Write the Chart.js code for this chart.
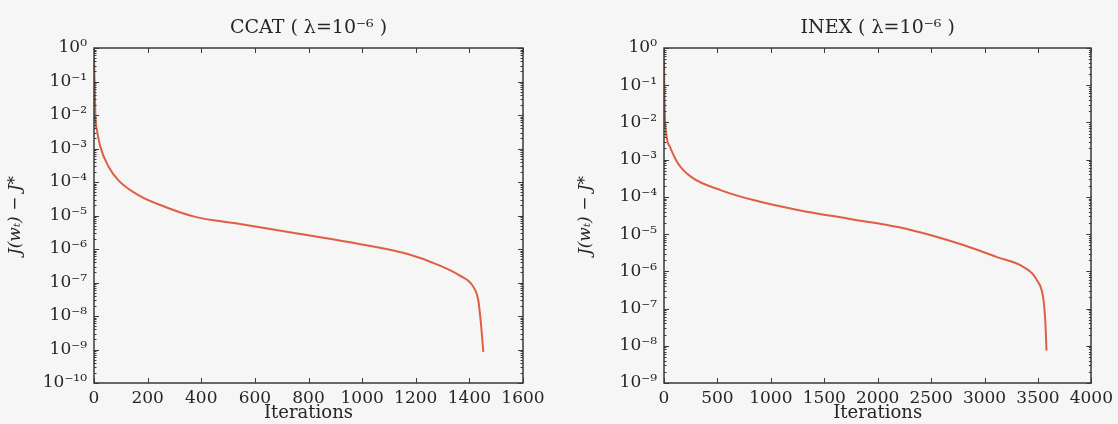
<!DOCTYPE html>
<html>
<head>
<meta charset="utf-8">
<script src="https://cdn.jsdelivr.net/npm/chart.js@4"></script>
<style>
  body { margin: 0; background: #f6f6f6; }
  .box { position: absolute; top: 0; width: 559px; height: 424px; }
</style>
</head>
<body>
<div class="box" style="left:0"><canvas id="ccat-chart"></canvas></div>
<div class="box" style="left:559px"><canvas id="inex-chart"></canvas></div>
<script>
// CCAT run (iterations vs objective gap)
const ccat_iters = [0, 3, 5, 12, 24, 55, 92, 167, 266, 378, 545, 794, 980, 1167, 1290, 1365, 1415, 1433, 1442, 1452]
const ccat_gap = [0.5, 0.05, 0.01, 3.2e-3, 1.1e-3, 2.8e-4, 1.1e-4, 4e-5, 1.8e-5, 9.1e-6, 5.6e-6, 2.6e-6, 1.45e-6, 7.2e-7, 3.2e-7, 1.6e-7, 7.4e-8, 3e-8, 7.4e-9, 8.5e-10]

// INEX run
const inex_iters = [0, 4, 9, 25, 56, 133, 257, 535, 845, 1262, 1726, 2190, 2499, 2809, 3118, 3366, 3490, 3552, 3570, 3580]
const inex_gap = [0.5, 0.05, 0.014, 4e-3, 2.2e-3, 7.8e-4, 3.4e-4, 1.5e-4, 8.1e-5, 4.4e-5, 2.6e-5, 1.55e-5, 9.3e-6, 5e-6, 2.4e-6, 1.3e-6, 5.8e-7, 1.7e-7, 3.9e-8, 7.4e-9]

// axis ticks
const ccat_x_ticks = [0, 200, 400, 600, 800, 1000, 1200, 1400, 1600]
const inex_x_ticks = [0, 500, 1000, 1500, 2000, 2500, 3000, 3500, 4000]
const ccat_y_exps = [0, -1, -2, -3, -4, -5, -6, -7, -8, -9, -10]
const inex_y_exps = [0, -1, -2, -3, -4, -5, -6, -7, -8, -9]

const ccat_title = "CCAT ( λ=10⁻⁶ )"
const inex_title = "INEX ( λ=10⁻⁶ )"
const y_label = "J(wₜ) − J*"
const x_label = "Iterations"

const serif = "'DejaVu Serif', 'Liberation Serif', serif"
const ink = "#262626"
const sup_map = {"-": "⁻", "0": "⁰", "1": "¹", "2": "²", "3": "³", "4": "⁴", "5": "⁵", "6": "⁶", "7": "⁷", "8": "⁸", "9": "⁹"}
function sup(n) {
  return String(n).split("").map(c => sup_map[c]).join("")
}

// frame, inward ticks on all sides and the title
const frameTicks = {
  id: "frameTicks",
  afterDatasetsDraw(chart, args, opts) {
    const ctx = chart.ctx
    const a = chart.chartArea
    const x = chart.scales.x
    const y = chart.scales.y
    ctx.save()
    ctx.strokeStyle = "#3a3a3a"
    ctx.lineWidth = 1
    ctx.beginPath()
    x.ticks.forEach(t => {
      const px = Math.round(x.getPixelForValue(t.value)) + 0.5
      ctx.moveTo(px, a.bottom); ctx.lineTo(px, a.bottom - 5)
      ctx.moveTo(px, a.top); ctx.lineTo(px, a.top + 5)
    })
    const lo = Math.round(Math.log10(y.min))
    const hi = Math.round(Math.log10(y.max))
    for (let e = lo; e <= hi; e++) {
      for (let m = 1; m <= 9; m++) {
        const v = m * Math.pow(10, e)
        if (v > y.max * 1.0001) continue
        const py = Math.round(y.getPixelForValue(v)) + 0.5
        const len = m === 1 ? 5 : 2.5
        ctx.moveTo(a.left, py); ctx.lineTo(a.left + len, py)
        ctx.moveTo(a.right, py); ctx.lineTo(a.right - len, py)
      }
    }
    ctx.stroke()
    ctx.lineWidth = 1.5
    ctx.strokeRect(Math.round(a.left), Math.round(a.top), Math.round(a.right - a.left), Math.round(a.bottom - a.top))
    ctx.fillStyle = ink
    ctx.font = "19px " + serif
    ctx.textAlign = "center"
    ctx.textBaseline = "middle"
    ctx.fillText(opts.title, (a.left + a.right) / 2, 28)
    ctx.restore()
  }
}

function makeChart(id, iters, gap, xTicks, yExps, title, padRight, yWidth, yTitleTop) {
  const points = []
  for (let i = 0; i < iters.length; i++) {
    points.push({x: iters[i], y: gap[i]})
  }
  return new Chart(document.getElementById(id), {
    type: "line",
    data: {
      datasets: [{
        data: points,
        borderColor: "#df5f45",
        borderWidth: 2,
        pointRadius: 0,
        cubicInterpolationMode: "monotone",
        fill: false
      }]
    },
    options: {
      responsive: true,
      maintainAspectRatio: false,
      animation: false,
      layout: {padding: {top: 48, right: padRight, bottom: 0, left: 0}},
      plugins: {
        legend: {display: false},
        tooltip: {enabled: false},
        frameTicks: {title: title}
      },
      scales: {
        x: {
          type: "linear",
          min: xTicks[0],
          max: xTicks[xTicks.length - 1],
          afterBuildTicks: s => { s.ticks = xTicks.map(v => ({value: v})) },
          afterFit: s => { s.height = 41 },
          grid: {display: false, drawTicks: false},
          border: {display: false},
          ticks: {autoSkip: false, maxRotation: 0, padding: 5, color: ink, font: {family: serif, size: 17}, callback: v => String(v)},
          title: {display: true, text: x_label, color: ink, padding: {top: 0, bottom: 0}, font: {family: serif, size: 18}}
        },
        y: {
          type: "logarithmic",
          min: Math.pow(10, yExps[yExps.length - 1]),
          max: Math.pow(10, yExps[0]),
          afterBuildTicks: s => { s.ticks = yExps.map(e => ({value: Math.pow(10, e)})) },
          afterFit: s => { s.width = yWidth },
          grid: {display: false, drawTicks: false},
          border: {display: false},
          ticks: {
            padding: 7,
            color: ink,
            font: {family: serif, size: 17},
            callback: v => "10" + sup(Math.round(Math.log10(v)))
          },
          title: {display: true, text: y_label, color: ink, padding: {top: yTitleTop, bottom: 0}, font: {family: serif, size: 17, style: "italic"}}
        }
      }
    },
    plugins: [frameTicks]
  })
}

makeChart("ccat-chart", ccat_iters, ccat_gap, ccat_x_ticks, ccat_y_exps, ccat_title, 36, 94, 5)
makeChart("inex-chart", inex_iters, inex_gap, inex_x_ticks, inex_y_exps, inex_title, 23, 105, 16)
</script>
</body>
</html>
